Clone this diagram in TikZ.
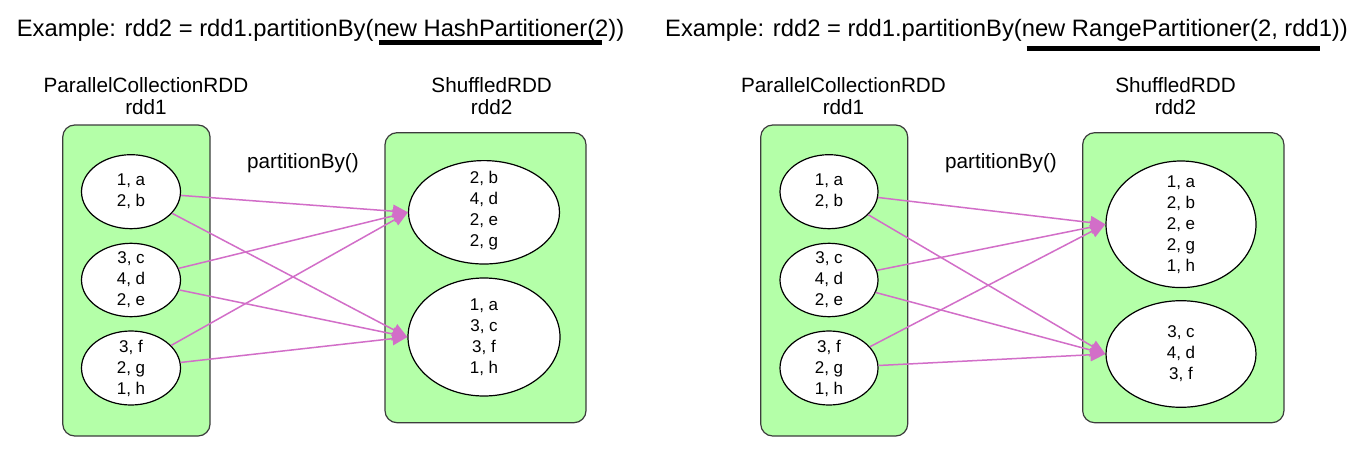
\documentclass[tikz,border=0pt]{standalone}
\usepackage{fontspec}
\setmainfont{Liberation Sans}
\usetikzlibrary{shapes.geometric,arrows.meta}
\definecolor{boxgreen}{RGB}{180,255,168}
\definecolor{boxline}{RGB}{60,60,60}
\definecolor{arrowpink}{RGB}{210,110,200}
\tikzset{
  rddbox/.style={draw=boxline,line width=1.2pt,fill=boxgreen,rounded corners=12pt,inner sep=0pt},
  part/.style={ellipse,draw=black,line width=1.2pt,fill=white,inner sep=0pt},
  parttext/.style={align=center,inner sep=0pt,font=\fontsize{17}{21}\selectfont},
  rddlabel/.style={align=center,inner sep=0pt,font=\fontsize{20.7}{21.7}\selectfont},
  titletext/.style={anchor=base west,inner sep=0pt,font=\fontsize{23.75}{26}\selectfont},
  flow/.style={draw=arrowpink,line width=1.5pt,-{Triangle[length=15pt,width=13pt]}},
  uline/.style={line width=5pt}
}
\begin{document}
\begin{tikzpicture}[x=1pt,y=-1pt]
\useasboundingbox (0,0) rectangle (1372,452);
\fill[white] (0,0) rectangle (1372,452);

% ---------------- left example ----------------
\node[titletext] (title1) at (16.7,37) {Example: rdd2 = rdd1.partitionBy(new HashPartitioner(2))};
\coordinate (u1a) at (379,43);
\coordinate (u1b) at (601.7,43);
\draw[uline] (u1a) -- (u1b);

\node[rddlabel] (pcr1) at (146,96) {ParallelCollectionRDD\\rdd1};
\node[rddlabel] (sr1) at (491.7,96) {ShuffledRDD\\rdd2};
\node[rddlabel] (pb1) at (303,163) {partitionBy()};

\node[rddbox,minimum width=147.3pt,minimum height=311pt] (box11) at (136.4,280.5) {};
\node[rddbox,minimum width=201pt,minimum height=290pt] (box12) at (485.5,277.7) {};

\node[part,minimum width=99pt,minimum height=74pt] (a1) at (131,191.7) {};
\node[parttext] (a1t) at (a1.center) {1, a\\2, b};
\node[part,minimum width=99pt,minimum height=73.4pt] (a2) at (131,280) {};
\node[parttext] (a2t) at (a2.center) {3, c\\4, d\\2, e};
\node[part,minimum width=99pt,minimum height=74pt] (a3) at (131,368) {};
\node[parttext] (a3t) at (a3.center) {3, f\\2, g\\1, h};

\node[part,minimum width=151pt,minimum height=103.4pt] (b1) at (484,212.3) {};
\node[parttext] (b1t) at ([yshift=2pt]b1.center) {2, b\\4, d\\2, e\\2, g};
\node[part,minimum width=152pt,minimum height=118pt] (b2) at (484,337) {};
\node[parttext] (b2t) at (b2.center) {1, a\\3, c\\3, f\\1, h};

\draw[flow] (a1) -- (b1.west);
\draw[flow] (a1) -- (b2.west);
\draw[flow] (a2) -- (b1.west);
\draw[flow] (a2) -- (b2.west);
\draw[flow] (a3) -- (b1.west);
\draw[flow] (a3) -- (b2.west);

% ---------------- right example ----------------
\node[titletext] (title2) at (665,37) {Example: rdd2 = rdd1.partitionBy(new RangePartitioner(2, rdd1))};
\coordinate (u2a) at (1026.7,49);
\coordinate (u2b) at (1320,49);
\draw[uline] (u2a) -- (u2b);

\node[rddlabel] (pcr2) at (843.5,96) {ParallelCollectionRDD\\rdd1};
\node[rddlabel] (sr2) at (1175.5,96) {ShuffledRDD\\rdd2};
\node[rddlabel] (pb2) at (1001,163) {partitionBy()};

\node[rddbox,minimum width=147pt,minimum height=311pt] (box21) at (834.2,280.5) {};
\node[rddbox,minimum width=201.3pt,minimum height=290pt] (box22) at (1183.3,277.7) {};

\node[part,minimum width=98pt,minimum height=74pt] (c1) at (829,191.7) {};
\node[parttext] (c1t) at (c1.center) {1, a\\2, b};
\node[part,minimum width=98pt,minimum height=73.4pt] (c2) at (829,280) {};
\node[parttext] (c2t) at (c2.center) {3, c\\4, d\\2, e};
\node[part,minimum width=98pt,minimum height=74pt] (c3) at (829,368) {};
\node[parttext] (c3t) at (c3.center) {3, f\\2, g\\1, h};

\node[part,minimum width=150pt,minimum height=126.6pt] (d1) at (1181,224.3) {};
\node[parttext] (d1t) at (d1.center) {1, a\\2, b\\2, e\\2, g\\1, h};
\node[part,minimum width=150pt,minimum height=106.6pt] (d2) at (1181,354) {};
\node[parttext] (d2t) at (d2.center) {3, c\\4, d\\3, f};

\draw[flow] (c1) -- (d1.west);
\draw[flow] (c1) -- (d2.west);
\draw[flow] (c2) -- (d1.west);
\draw[flow] (c2) -- (d2.west);
\draw[flow] (c3) -- (d1.west);
\draw[flow] (c3) -- (d2.west);
\end{tikzpicture}
\end{document}
